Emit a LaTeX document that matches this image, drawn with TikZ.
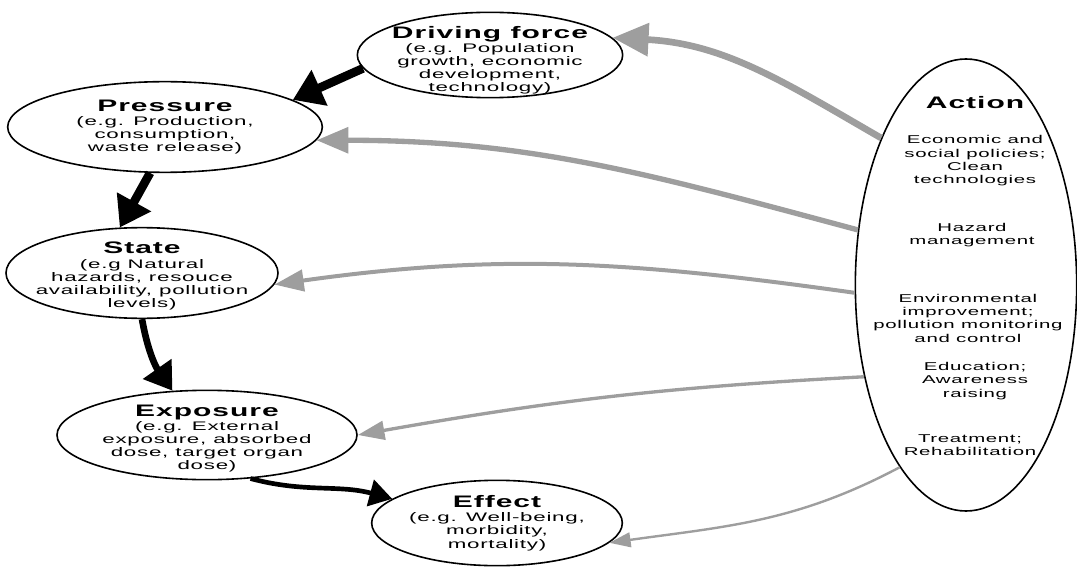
\documentclass[tikz,border=0pt]{standalone}
\usepackage{fontspec}
\setmainfont{Liberation Sans}[FakeStretch=1.8,LetterSpace=6]
\usetikzlibrary{shapes.geometric,arrows.meta}

\newcommand{\headfont}{\fontsize{12.5}{14}\selectfont\bfseries}
\newcommand{\notefont}{\fontsize{9.3}{9.8}\selectfont}
\newcommand{\actfont}{\fontsize{8.5}{10}\selectfont}

\begin{document}
\begin{tikzpicture}[x=0.75pt,y=0.75pt,
  stage/.style={ellipse,draw,line width=1.2pt,inner xsep=-30pt,inner ysep=-15pt,align=center,font=\notefont},
  loop arrow/.style={-{Triangle[length=22pt,width=28pt]},line width=6.5pt},
  act arrow/.style={black!38},
  act text/.style={align=center,font=\actfont}]
\useasboundingbox (0,0) rectangle (1077,572);

% Draw the cycle of stages
\node[stage,minimum width=199pt,minimum height=64pt] (drive) at (490,517)
  {{\headfont\rule{0pt}{17pt}Driving force}\\[1pt](e.g. Population\\growth, economic\\development,\\technology)};
\node[stage,minimum width=236pt,minimum height=68pt] (press) at (165,445)
  {{\headfont Pressure}\\[1pt](e.g. Production,\\consumption,\\waste release)};
\node[stage,minimum width=204pt,minimum height=68pt] (state) at (142,299)
  {{\headfont\rule{0pt}{13.5pt}State}\\[1pt](e.g Natural\\hazards, resouce\\availability, pollution\\levels)};
\node[stage,minimum width=225pt,minimum height=67pt] (expo) at (207,137)
  {{\headfont\rule{0pt}{14pt}Exposure}\\[1pt](e.g. External\\exposure, absorbed\\dose, target organ\\dose)};
\node[stage,minimum width=188pt,minimum height=64pt] (effect) at (497,49)
  {{\headfont Effect}\\[1pt](e.g. Well-being,\\morbidity,\\mortality)};

% Draw the action ellipse and its texts
\node[stage,minimum width=166pt,minimum height=339pt] (action) at (966,287) {};
\node[act text,font=\headfont] (act) at (975,469) {Action};
\node[act text] (econ) at (975,411) {Economic and\\social policies;\\Clean\\technologies};
\node[act text] (hazard) at (972,337) {Hazard\\management};
\node[act text] (envir) at (968,254) {Environmental\\improvement;\\pollution monitoring\\and control};
\node[act text] (educ) at (975,191) {Education;\\Awareness\\raising};
\node[act text] (treat) at (970,127) {Treatment;\\Rehabilitation};

% Draw the black arrows between stages
\draw[loop arrow] (drive.186) -- (press.12);
\draw[loop arrow] (press.252) -- (state.116);
\draw[loop arrow,line width=5pt,-{Triangle[length=20pt,width=25pt]}] (state.270) to[out=-80,in=125] (expo.128);
\draw[loop arrow,line width=3.5pt,-{Triangle[length=17pt,width=20pt]}] (expo.-45) to[out=-15,in=165] (effect.167);

% Draw the gray arrows from action
\draw[act arrow,line width=5pt,-{Triangle[length=27pt,width=24pt]}] (action.120) to[out=150,in=-3] (drive.8);
\draw[act arrow,line width=4pt,-{Triangle[length=24pt,width=19pt]}] (action.153) to[out=165,in=0] (press.-5);
\draw[act arrow,line width=3pt,-{Triangle[length=22pt,width=16pt]}] (action.184) to[out=172,in=8] (state.-5);
\draw[act arrow,line width=2.5pt,-{Triangle[length=20pt,width=14pt]}] (action.222) to[out=183,in=10] (expo.0);
\draw[act arrow,line width=1.8pt,-{Triangle[length=16pt,width=11pt]}] (action.250) to[out=208,in=8] (effect.-10);
\end{tikzpicture}
\end{document}
